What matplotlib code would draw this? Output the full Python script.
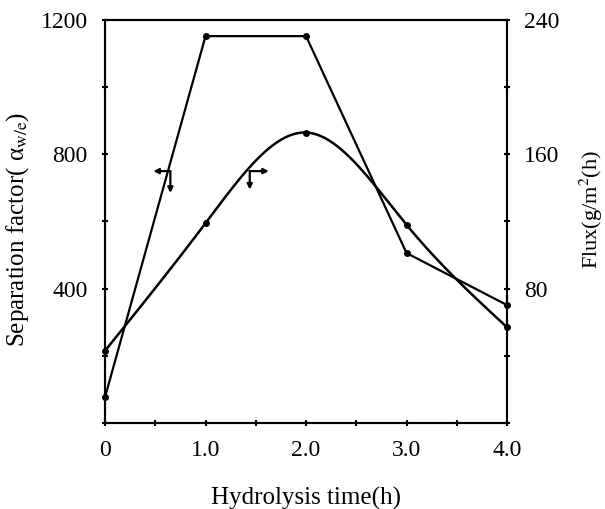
import numpy as np
import matplotlib
matplotlib.use("Agg")
import matplotlib.pyplot as plt

plt.rcParams['font.family'] = ['Liberation Serif', 'DejaVu Serif']
plt.rcParams['mathtext.fontset'] = 'stix'

# data
time_h = [0, 1.0, 2.0, 3.0, 4.0]
sep_factor = [77, 1152, 1152, 506, 351]
flux = [43, 119, 173, 118, 57]


def natural_spline(x, y, n=200):
    # natural cubic spline through the measured points
    x = np.asarray(x, float); y = np.asarray(y, float)
    k = len(x); h = np.diff(x)
    A = np.zeros((k, k)); r = np.zeros(k)
    A[0, 0] = A[-1, -1] = 1
    for i in range(1, k - 1):
        A[i, i-1] = h[i-1]; A[i, i] = 2*(h[i-1]+h[i]); A[i, i+1] = h[i]
        r[i] = 6*((y[i+1]-y[i])/h[i] - (y[i]-y[i-1])/h[i-1])
    M = np.linalg.solve(A, r)
    xs = np.linspace(x[0], x[-1], n); ys = np.empty_like(xs)
    for j, t in enumerate(xs):
        i = min(np.searchsorted(x, t, side='right') - 1, k - 2)
        a = x[i+1]-t; b = t-x[i]
        ys[j] = (M[i]*a**3 + M[i+1]*b**3)/(6*h[i]) + (y[i]/h[i]-M[i]*h[i]/6)*a + (y[i+1]/h[i]-M[i+1]*h[i]/6)*b
    return xs, ys


fig = plt.figure(figsize=(6.05, 5.09), dpi=100)
ax = fig.add_axes([0.1736, 0.169, 0.6645, 0.7917])
ax2 = ax.twinx()

ax.plot(time_h, sep_factor, color='k', lw=1.6, marker='o', ms=4, clip_on=False, zorder=3)
xs, ys = natural_spline(time_h, flux)
ax2.plot(xs, ys, color='k', lw=1.8, clip_on=False)
ax2.plot(time_h, flux, 'o', color='k', ms=4, clip_on=False)

ax.set_xlim(0, 4.0)
ax.set_ylim(0, 1200)
ax2.set_ylim(0, 240)

ax.set_xticks([0, 1.0, 2.0, 3.0, 4.0])
ax.set_xticklabels(['0', '1.0', '2.0', '3.0', '4.0'])
ax.set_xticks(np.arange(0, 4.01, 0.5), minor=True)
ax.set_yticks([400, 800, 1200])
ax.set_yticks(np.arange(0, 1201, 200), minor=True)
ax2.set_yticks([80, 160, 240])
ax2.set_yticks(np.arange(0, 241, 40), minor=True)

for a in (ax, ax2):
    a.tick_params(which='both', direction='inout', length=5, width=1.5, labelsize=17, pad=10)
    for s in a.spines.values():
        s.set_linewidth(1.5)

ax.set_xlabel('Hydrolysis time(h)', fontsize=18)
ax.xaxis.set_label_coords(0.5, -0.158)
ax.set_ylabel(r'Separation factor( α$_{\mathrm{w/e}}$)', fontsize=18)
ax.yaxis.set_label_coords(-0.183, 0.48)
ax2.set_ylabel(r'Flux(g/m$^2$(h)', fontsize=16, rotation=90)
ax2.yaxis.set_label_coords(1.175, 0.53)

# arrows telling which axis each curve belongs to
ap = dict(arrowstyle='-|>,head_length=0.3,head_width=0.15', color='k', lw=1.6, shrinkA=0, shrinkB=0)
ax.annotate('', xy=(0.48, 750), xytext=(0.65, 750), arrowprops=ap)
ax.annotate('', xy=(0.65, 685), xytext=(0.65, 750), arrowprops=ap)
ax2.annotate('', xy=(1.63, 150), xytext=(1.44, 150), arrowprops=ap)
ax2.annotate('', xy=(1.44, 139), xytext=(1.44, 150), arrowprops=ap)

fig.savefig('out.png', dpi=100)
